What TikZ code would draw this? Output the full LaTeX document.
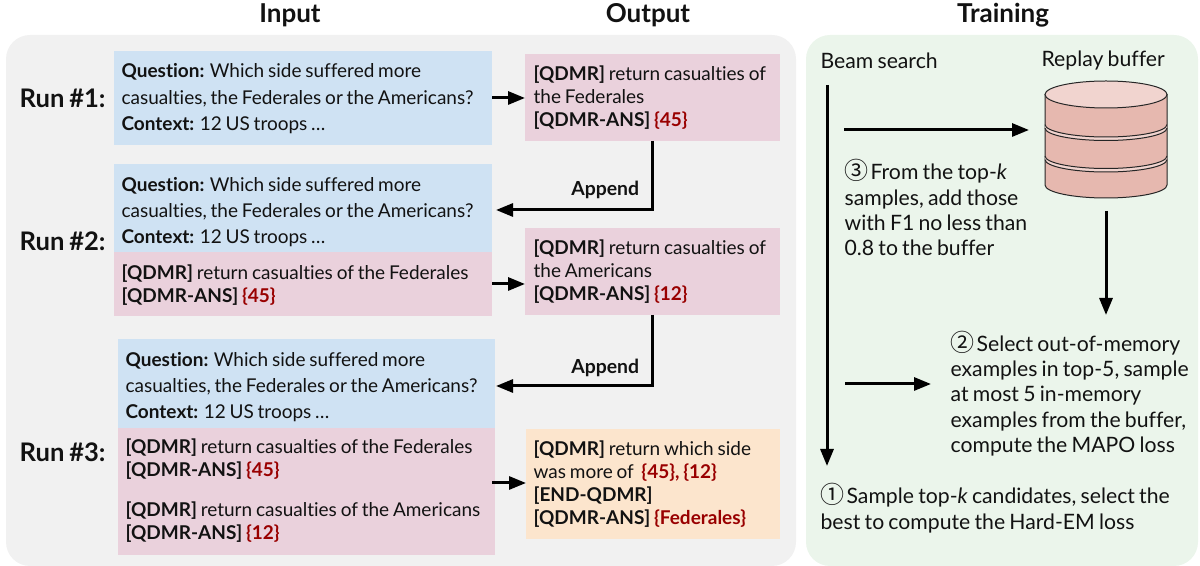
\documentclass[tikz,border=0pt]{standalone}
\usepackage{fontspec}
\usepackage{xcolor}
\usetikzlibrary{arrows.meta,positioning}
\setmainfont[WordSpace=0.78,Ligatures=NoCommon]{Lato}
\newfontfamily\circfont{Noto Sans CJK SC}
\definecolor{panelgray}{HTML}{F1F1F1}
\definecolor{panelgreen}{HTML}{EBF5EB}
\definecolor{inblue}{HTML}{CFE2F3}
\definecolor{qdmrpink}{HTML}{EAD1DC}
\definecolor{finalorange}{HTML}{FCE5CD}
\definecolor{ansred}{HTML}{990000}
\definecolor{cylside}{HTML}{E6B8AF}
\definecolor{cyltop}{HTML}{F1D4CF}
\newcommand{\ans}[1]{\textcolor{ansred}{\textbf{\{#1\}}}}
\newcommand{\circled}[1]{\smash{\circfont\fontsize{12}{10}\selectfont #1}\hspace{1pt}}

\tikzset{
	box/.style={inner sep=0pt, outer sep=0pt, anchor=north west},
	txt/.style={inner sep=0pt, anchor=west, align=left, text=black!93, xshift=-0.4pt},
	intxt/.style={txt, font=\fontsize{9.5}{13.2}\selectfont},
	qdtxt/.style={txt, font=\fontsize{9.5}{11.5}\selectfont},
	trtxt/.style={txt, font=\fontsize{10.6}{12.7}\selectfont},
	runtxt/.style={txt, font=\fontsize{12.8}{14}\selectfont\bfseries},
	head/.style={inner sep=0pt, text=black!93, font=\fontsize{13}{15}\selectfont\bfseries},
	apptxt/.style={txt, anchor=center, font=\fontsize{9.7}{12}\selectfont\bfseries},
	arr/.style={-{Triangle[length=8.5pt,width=6.5pt]}, line width=1.5pt, black},
	arc1/.style={start angle=180, end angle=360, x radius=30.5pt, y radius=6.25pt},
	arc2/.style={start angle=360, end angle=180, x radius=30.5pt, y radius=6.25pt}
}

\begin{document}
\begin{tikzpicture}[x=0.5pt,y=-0.5pt]
	\useasboundingbox (0,0) rectangle (1200,566);

	% panels
	\fill[panelgray, rounded corners=12pt] (6,35) rectangle (796,566);
	\fill[panelgreen, rounded corners=12pt] (806,35) rectangle (1198,566);

	\node[head] (input) at (290,15) {Input};
	\node[head] (output) at (648,15) {Output};
	\node[head] (training) at (1003,15) {Training};

	% run 1
	\node[box, fill=inblue, minimum width=189pt, minimum height=47pt] (blue1) at (114,51) {};
	\node[box, fill=qdmrpink, minimum width=127.5pt, minimum height=43.5pt] (out1) at (525,54) {};
	\node[runtxt] (run1) at (20,98) {Run \#1:};
	\node[intxt] (blue1txt) at (122,98.7) {\textbf{Question:} Which side suffered more\\casualties, the Federales or the Americans?\\\textbf{Context:} 12 US troops \dots};
	\node[qdtxt] (out1txt) at (534,98) {\textbf{[QDMR]} return casualties of\\the Federales\\\textbf{[QDMR-ANS]} \ans{45}};

	% run 2
	\node[box, fill=inblue, minimum width=189pt, minimum height=44pt] (blue2) at (114,164) {};
	\node[box, fill=qdmrpink, minimum width=189pt, minimum height=32pt] (pink2) at (114,252) {};
	\node[box, fill=qdmrpink, minimum width=127.5pt, minimum height=43.5pt] (out2) at (525,228) {};
	\node[runtxt] (run2) at (20,241) {Run \#2:};
	\node[intxt] (blue2txt) at (122,212) {\textbf{Question:} Which side suffered more\\casualties, the Federales or the Americans?\\\textbf{Context:} 12 US troops \dots};
	\node[qdtxt] (pink2txt) at (122,285.5) {\textbf{[QDMR]} return casualties of the Federales\\\textbf{[QDMR-ANS]} \ans{45}};
	\node[qdtxt] (out2txt) at (534,272) {\textbf{[QDMR]} return casualties of\\the Americans\\\textbf{[QDMR-ANS]} \ans{12}};

	% run 3
	\node[box, fill=inblue, minimum width=188.5pt, minimum height=44.5pt] (blue3) at (118,339) {};
	\node[box, fill=qdmrpink, minimum width=188.5pt, minimum height=63.5pt] (pink3) at (118,428) {};
	\node[box, fill=finalorange, minimum width=127pt, minimum height=55pt] (out3) at (526,429) {};
	\node[runtxt] (run3) at (20,452) {Run \#3:};
	\node[intxt] (blue3txt) at (126,387) {\textbf{Question:} Which side suffered more\\casualties, the Federales or the Americans?\\\textbf{Context:} 12 US troops \dots};
	\node[qdtxt] (pink3a) at (126,459.5) {\textbf{[QDMR]} return casualties of the Federales\\\textbf{[QDMR-ANS]} \ans{45}};
	\node[qdtxt] (pink3b) at (126,522.5) {\textbf{[QDMR]} return casualties of the Americans\\\textbf{[QDMR-ANS]} \ans{12}};
	\node[qdtxt] (out3txt) at (534,484) {\textbf{[QDMR]} return which side\\was more of~ \ans{45}\textcolor{ansred}{\textbf{,}} \ans{12}\\\textbf{[END-QDMR]}\\\textbf{[QDMR-ANS]} \ans{Federales}};

	\coordinate (in2) at (496,210);
	\coordinate (in3) at (496,386);
	\node[apptxt] (append1) at (606,190) {Append};
	\node[apptxt] (append2) at (606,368) {Append};

	\draw[arr] (blue1.east) -- (blue1.east -| out1.west);
	\draw[arr] (pink2.east) -- (pink2.east -| out2.west);
	\draw[arr] (492,483) coordinate (pink3e) -- (pink3e -| out3.west);
	\draw[arr] (out1.south) |- (in2);
	\draw[arr] (out2.south) |- (in3);

	% training
	\node[trtxt] (beam) at (821,61) {Beam search};
	\node[trtxt, anchor=center] (replay) at (1104,61) {Replay buffer};

	\coordinate (beamtop) at (827,85);
	\coordinate (beamend) at (827,466);
	\coordinate (addfrom) at (844,130);
	\coordinate (addto) at (1029,130);
	\coordinate (buftop) at (1106,211);
	\coordinate (selto) at (1106,315);
	\coordinate (selfrom) at (845,384);
	\coordinate (selend) at (931,384);

	% buffer
	\begin{scope}[draw=black!85, line width=0.5pt]
		\filldraw[fill=cylside] (1045,94.5) -- (1045,185) arc[start angle=180, end angle=360, x radius=30.5pt, y radius=6.5pt] -- (1167,94.5) -- cycle;
		\fill[cyltop] (1045,124.5) arc[arc1] -- (1167,128) arc[arc2] -- cycle;
		\draw (1045,124.5) arc[arc1];
		\draw (1045,128) arc[arc1];
		\fill[cyltop] (1045,156) arc[arc1] -- (1167,159.5) arc[arc2] -- cycle;
		\draw (1045,156) arc[arc1];
		\draw (1045,159.5) arc[arc1];
		\filldraw[fill=cyltop] (1106,94.5) ellipse[x radius=30.5pt, y radius=6.75pt];
	\end{scope}

	\draw[arr] (beamtop) -- (beamend);
	\draw[arr] (addfrom) -- (addto);
	\draw[arr] (buftop) -- (selto);
	\draw[arr] (selfrom) -- (selend);

	\node[trtxt] (step3) at (845,210) {\circled{③}From the top-\textit{k}\\samples, add those\\with F1 no less than\\0.8 to the buffer};
	\node[trtxt] (step2) at (951,396) {\circled{②}Select out-of-memory\\examples in top-5, sample\\at most 5 in-memory\\examples from the buffer,\\compute the MAPO loss};
	\node[trtxt] (step1) at (821,510.5) {\circled{①}Sample top-\textit{k} candidates, select the\\best to compute the Hard-EM loss};
\end{tikzpicture}
\end{document}
